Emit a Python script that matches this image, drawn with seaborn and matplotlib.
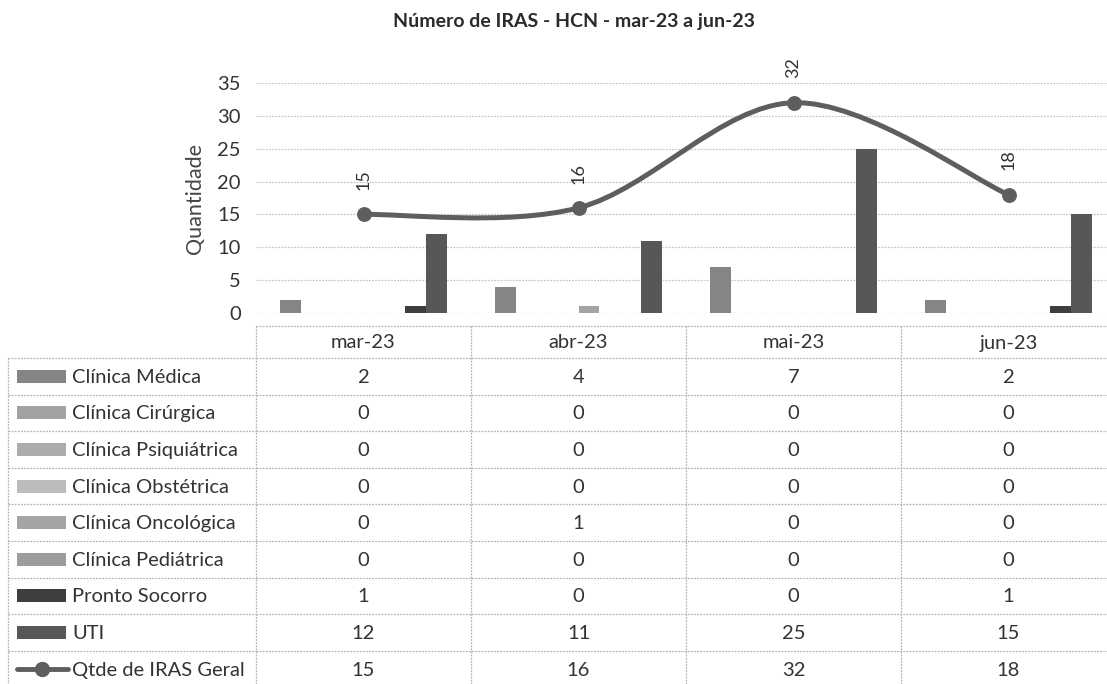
import numpy as np
import pandas as pd
import matplotlib
matplotlib.use("Agg")
import matplotlib.pyplot as plt
import matplotlib.transforms as mtransforms
from matplotlib.path import Path
from matplotlib.patches import PathPatch, Rectangle
from matplotlib.lines import Line2D
import seaborn as sns

# ---- data -------------------------------------------------------------
meses = ["mar-23", "abr-23", "mai-23", "jun-23"]
setores = ["Clínica Médica", "Clínica Cirúrgica", "Clínica Psiquiátrica",
           "Clínica Obstétrica", "Clínica Oncológica", "Clínica Pediátrica",
           "Pronto Socorro", "UTI"]
clinica_medica = [2, 4, 7, 2]
clinica_cirurgica = [0, 0, 0, 0]
clinica_psiquiatrica = [0, 0, 0, 0]
clinica_obstetrica = [0, 0, 0, 0]
clinica_oncologica = [0, 1, 0, 0]
clinica_pediatrica = [0, 0, 0, 0]
pronto_socorro = [1, 0, 0, 1]
uti = [12, 11, 25, 15]
qtde_geral = [15, 16, 32, 18]
rotulo_geral = "Qtde de IRAS Geral"
titulo = "Número de IRAS - HCN - mar-23 a jun-23"
yticks = [0, 5, 10, 15, 20, 25, 30, 35]

series = [clinica_medica, clinica_cirurgica, clinica_psiquiatrica,
          clinica_obstetrica, clinica_oncologica, clinica_pediatrica,
          pronto_socorro, uti]
cores = ["#858585", "#a2a2a2", "#acacac", "#bcbcbc", "#a4a4a4", "#9c9c9c",
         "#3e3e3e", "#575757"]
cor_linha = "#5e5e5e"

df = pd.DataFrame([
    {"mes": m, "setor": s, "valor": v}
    for s, vals in zip(setores, series)
    for m, v in zip(meses, vals)
])

# ---- figure -----------------------------------------------------------
sns.set_theme(style="white")
plt.rcParams["font.family"] = ["Lato", "DejaVu Sans"]

W, H = 1107, 684
fig = plt.figure(figsize=(W / 100, H / 100), dpi=100)
fig.patch.set_facecolor("white")

# plot area in pixels (continues past the right edge of the page)
px_left, px_top, px_bottom = 256, 83, 313
cat_w = 215
ax = fig.add_axes([px_left / W, 1 - px_bottom / H,
                   4 * cat_w / W, (px_bottom - px_top) / H])

sns.barplot(data=df, x="mes", y="valor", hue="setor", order=meses,
            hue_order=setores, palette=cores, width=0.78, gap=0,
            linewidth=0, saturation=1, errorbar=None, legend=False, ax=ax,
            zorder=2)

# smoothed total line (cubic Bezier through the monthly totals)
xs = np.arange(len(qtde_geral), dtype=float)
ys = np.array(qtde_geral, dtype=float)
pts = np.column_stack([xs, ys])
verts = [tuple(pts[0])]
codes = [Path.MOVETO]
n = len(pts)
for i in range(n - 1):
    p_prev = pts[max(i - 1, 0)]
    p0, p1 = pts[i], pts[i + 1]
    p_next = pts[min(i + 2, n - 1)]
    c1 = p0 + (p1 - p_prev) / 6
    c2 = p1 - (p_next - p0) / 6
    verts += [tuple(c1), tuple(c2), tuple(p1)]
    codes += [Path.CURVE4] * 3
ax.add_patch(PathPatch(Path(verts, codes), facecolor="none",
                       edgecolor=cor_linha, lw=3.6, capstyle="round",
                       zorder=4))
sns.scatterplot(x=xs, y=ys, s=115, color=cor_linha, edgecolor=cor_linha,
                linewidth=0, zorder=5, ax=ax, legend=False)
for x, v in zip(xs, qtde_geral):
    ax.annotate(str(v), (x, v), xytext=(0, 25), textcoords="offset points",
                rotation=90, ha="center", va="center", fontsize=13,
                color="#333333", zorder=6)

ax.set_xlim(-0.5, len(meses) - 0.5)
ax.set_ylim(0, 35)
ax.set_yticks(yticks)
ax.set_yticklabels([str(t) for t in yticks], fontsize=14.5, color="#333333")
ax.tick_params(axis="y", length=0, pad=11)
ax.set_xticks([])
ax.set_xlabel("")
ax.set_ylabel("Quantidade", fontsize=15.5, color="#444444", labelpad=9)
ax.grid(axis="y", color="#c8c8c8", lw=0.9, ls=(0, (1.5, 1)), zorder=0)
for s in ax.spines.values():
    s.set_visible(False)
ax.set_axisbelow(True)

# ---- title ------------------------------------------------------------
fig.text(574 / W, 1 - 22 / H, titulo, ha="center", va="center",
         fontsize=14, fontweight="bold", color="#2a2a2a")

# ---- data table under the chart --------------------------------------
tb = fig.add_axes([0, 0, 1, 1], zorder=-1)
tb.set_xlim(0, W)
tb.set_ylim(H, 0)
tb.axis("off")
bl = mtransforms.blended_transform_factory(ax.transData, tb.transData)

grid_kw = dict(color="#b4b4b4", lw=0.9, ls=(0, (1.5, 1)))
head_top, head_bot = 326, 358
row_h = 36.6
n_rows = len(setores) + 1
table_bot = head_bot + n_rows * row_h
tab_left = 8
fs_tab = 14.5

# horizontal borders
tb.plot([-0.5, len(meses) - 0.5], [head_top, head_top], transform=bl, **grid_kw)
for k in range(n_rows + 1):
    y = head_bot + k * row_h
    tb.plot([tab_left, px_left], [y, y], **grid_kw)
    tb.plot([-0.5, len(meses) - 0.5], [y, y], transform=bl, **grid_kw)
# vertical borders
tb.plot([tab_left, tab_left], [head_bot, table_bot], **grid_kw)
for i in range(len(meses) + 1):
    xb = i - 0.5
    tb.plot([xb, xb], [head_top, table_bot], transform=bl, **grid_kw)

# header
for i, m in enumerate(meses):
    tb.text(i, (head_top + head_bot) / 2 + 1, m, transform=bl, ha="center",
            va="center", fontsize=fs_tab, color="#333333")

# rows
linhas = list(zip(setores, series, cores)) + [(rotulo_geral, qtde_geral, None)]
for k, (nome, vals, cor) in enumerate(linhas):
    yc = head_bot + (k + 0.5) * row_h
    if cor is not None:
        tb.add_patch(Rectangle((17, yc - 6.5), 49, 13, facecolor=cor,
                               edgecolor="none"))
    else:
        tb.add_line(Line2D([17, 68], [yc, yc], color=cor_linha, lw=3.5))
        tb.plot([42], [yc], marker="o", ms=10, color=cor_linha)
    tb.text(72, yc + 1, nome, ha="left", va="center", fontsize=fs_tab,
            color="#333333")
    for i, v in enumerate(vals):
        tb.text(i, yc + 1, str(v), transform=bl, ha="center", va="center",
                fontsize=fs_tab, color="#333333")

fig.savefig("out.png", dpi=100, facecolor="white")
